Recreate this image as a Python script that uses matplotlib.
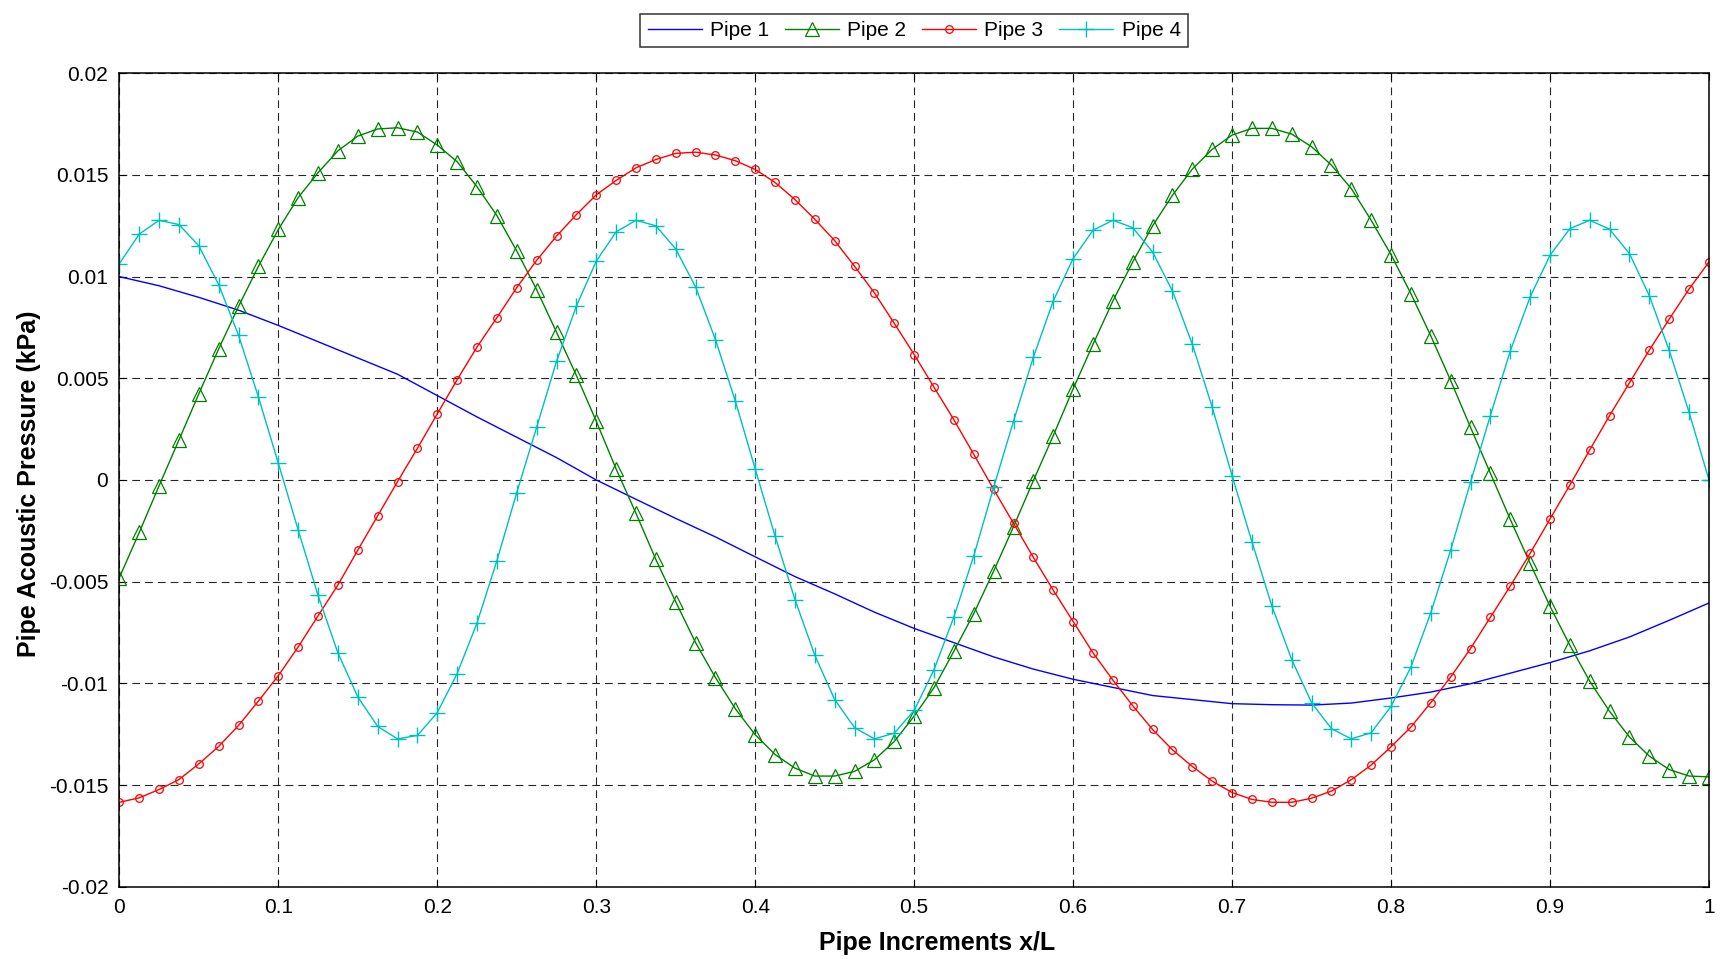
import numpy as np
import matplotlib
matplotlib.use("Agg")
import matplotlib.pyplot as plt

# Positions along the pipe (x/L)
x_fine = np.linspace(0.0, 1.0, 81)
x_coarse = np.linspace(0.0, 1.0, 41)

pipe1 = [0.0100, 0.00955, 0.00898, 0.00835, 0.0076, 0.0068, 0.0060, 0.0052,
         0.00415, 0.0031, 0.0021, 0.0011, 0.0000, -0.00095, -0.00189, -0.0028,
         -0.00378, -0.00475, -0.0056, -0.0065, -0.0073, -0.0080, -0.0087, -0.0093,
         -0.0098, -0.0102, -0.0106, -0.0108, -0.0110, -0.01105, -0.01107, -0.01097,
         -0.01072, -0.01043, -0.01002, -0.0095, -0.00898, -0.0084, -0.00772, -0.0069,
         -0.00605]

pipe2 = [-0.0048, -0.00258, -0.00028, 0.00197, 0.00424, 0.00645, 0.00854, 0.01051,
         0.01232, 0.01389, 0.01511, 0.01619, 0.01691, 0.01726, 0.01732, 0.01711,
         0.01647, 0.01565, 0.01442, 0.01300, 0.01126, 0.00936, 0.00727, 0.00514,
         0.00289, 0.00054, -0.00164, -0.00391, -0.00599, -0.0080, -0.00972, -0.01125,
         -0.01253, -0.0135, -0.01417, -0.01456, -0.01456, -0.01433, -0.01376, -0.01286,
         -0.01161, -0.01021, -0.00842, -0.00657, -0.00448, -0.0023, -0.00003, 0.00218,
         0.00448, 0.00667, 0.0088, 0.01072, 0.0125, 0.0140, 0.01529, 0.01626,
         0.01696, 0.01729, 0.01729, 0.01701, 0.01639, 0.01548, 0.01433, 0.01277,
         0.01108, 0.00916, 0.00709, 0.00489, 0.00259, 0.00033, -0.00194, -0.0041,
         -0.00621, -0.00813, -0.0099, -0.01138, -0.01264, -0.01358, -0.01424, -0.01456,
         -0.01460]

pipe3 = [-0.01585, -0.01563, -0.01522, -0.01473, -0.01396, -0.0131, -0.01207, -0.01087,
         -0.00962, -0.00821, -0.00668, -0.00516, -0.00345, -0.00176, -0.00008, 0.00156,
         0.00325, 0.00493, 0.00654, 0.00798, 0.00946, 0.0108, 0.01199, 0.01305,
         0.01402, 0.01473, 0.01535, 0.01576, 0.01606, 0.01612, 0.01598, 0.0157,
         0.01527, 0.01463, 0.01379, 0.01282, 0.01177, 0.01051, 0.0092, 0.0077,
         0.00617, 0.00456, 0.00296, 0.00126, -0.00046, -0.00213, -0.00381, -0.00542,
         -0.00696, -0.0085, -0.00984, -0.0111, -0.01227, -0.01327, -0.01409, -0.01481,
         -0.01537, -0.01571, -0.01585, -0.01585, -0.01565, -0.0153, -0.01474, -0.01402,
         -0.01312, -0.01215, -0.01095, -0.00969, -0.00829, -0.00675, -0.00522, -0.00361,
         -0.00192, -0.00025, 0.00148, 0.00317, 0.00478, 0.00639, 0.00791, 0.00939,
         0.01072]

pipe4 = [0.01064, 0.01209, 0.01277, 0.01256, 0.01151, 0.0096, 0.00711, 0.00407,
         0.00082, -0.00246, -0.00568, -0.00851, -0.01067, -0.01212, -0.01273, -0.01256,
         -0.01144, -0.00952, -0.00703, -0.00397, -0.00062, 0.00259, 0.00583, 0.00855,
         0.01076, 0.0122, 0.01277, 0.0125, 0.01136, 0.00949, 0.0069, 0.00388,
         0.00054, -0.00276, -0.00588, -0.00862, -0.0108, -0.01218, -0.01273, -0.01245,
         -0.01133, -0.00933, -0.00673, -0.00373, -0.00036, 0.00289, 0.00604, 0.0088,
         0.01089, 0.01228, 0.01277, 0.01241, 0.01121, 0.00929, 0.00667, 0.00358,
         0.00021, -0.00304, -0.00619, -0.00883, -0.01095, -0.01223, -0.01273, -0.01243,
         -0.01113, -0.0092, -0.00653, -0.00345, -0.00011, 0.00317, 0.00634, 0.009,
         0.01105, 0.01236, 0.01277, 0.01233, 0.01113, 0.00906, 0.00637, 0.00333,
         0.0]

x_ticks = [0, 0.1, 0.2, 0.3, 0.4, 0.5, 0.6, 0.7, 0.8, 0.9, 1]
x_tick_labels = ["0", "0.1", "0.2", "0.3", "0.4", "0.5", "0.6", "0.7", "0.8", "0.9", "1"]
y_ticks = [-0.02, -0.015, -0.01, -0.005, 0, 0.005, 0.01, 0.015, 0.02]
y_tick_labels = ["-0.02", "-0.015", "-0.01", "-0.005", "0", "0.005", "0.01", "0.015", "0.02"]

plt.rcParams["font.family"] = ["Liberation Sans", "DejaVu Sans"]

fig = plt.figure(figsize=(17.25, 9.59), dpi=100)
ax = fig.add_axes([0.0692, 0.0754, 0.9215, 0.8482])

lw = 1.0
ax.plot(x_coarse, pipe1, color="#0000ff", lw=lw, label="Pipe 1")
ax.plot(x_fine, pipe2, color="#008000", lw=lw, marker="^", ms=9.5,
        mfc="none", mec="#008000", mew=0.9, label="Pipe 2")
ax.plot(x_fine, pipe3, color="#ff0000", lw=lw, marker="o", ms=5.5,
        mfc="none", mec="#ff0000", mew=0.9, label="Pipe 3")
ax.plot(x_fine, pipe4, color="#00bfbf", lw=lw, marker="+", ms=11,
        mec="#00bfbf", mew=1.0, label="Pipe 4")

ax.set_xlim(0, 1)
ax.set_ylim(-0.02, 0.02)
ax.set_xticks(x_ticks)
ax.set_xticklabels(x_tick_labels)
ax.set_yticks(y_ticks)
ax.set_yticklabels(y_tick_labels)

ax.grid(True, color="black", lw=0.8, linestyle=(0, (7, 4.5)), alpha=0.85)
ax.set_axisbelow(True)
ax.tick_params(direction="in", length=5, width=0.8, labelsize=15, pad=8,
               top=True, right=True)
for s in ax.spines.values():
    s.set_linewidth(1.1)
    s.set_color("black")

ax.set_xlabel("Pipe Increments x/L", fontsize=18, fontweight="bold")
ax.set_ylabel("Pipe Acoustic Pressure (kPa)", fontsize=18, fontweight="bold")
ax.xaxis.set_label_coords(0.5145, -0.0545)
ax.yaxis.set_label_coords(-0.0495, 0.495)

leg = ax.legend(loc="lower center", bbox_to_anchor=(0.5, 1.032), ncol=4,
                fontsize=15, frameon=True, fancybox=False, borderaxespad=0,
                handlelength=2.6, columnspacing=0.75, handletextpad=0.4,
                borderpad=0.35)
leg.get_frame().set_edgecolor("black")
leg.get_frame().set_linewidth(1.1)

fig.savefig("out.png", dpi=100, facecolor="white")
